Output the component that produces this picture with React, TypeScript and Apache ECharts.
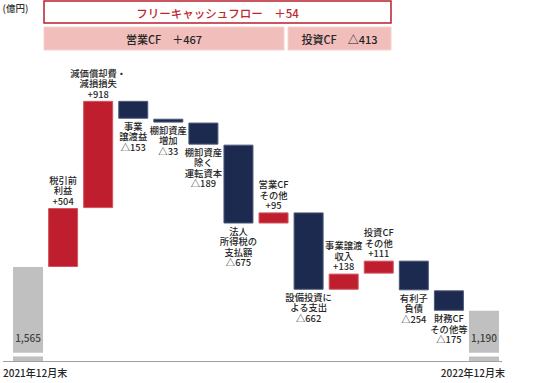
import React, { useEffect, useRef } from "react";
import * as echarts from "echarts";

const categories = [
  "2021年12月末", "税引前利益", "減価償却費・減損損失", "事業譲渡益", "棚卸資産増加",
  "棚卸資産除く運転資本", "法人所得税の支払額", "営業CFその他", "設備投資による支出",
  "事業譲渡収入", "投資CFその他", "有利子負債", "財務CFその他等", "2022年12月末",
];
const barLabels = [
  "", "税引前\n利益", "減価償却費・\n減損損失", "事業\n譲渡益", "棚卸資産\n増加",
  "棚卸資産\n除く\n運転資本", "法人\n所得税の\n支払額", "営業CF\nその他", "設備投資に\nよる支出",
  "事業譲渡\n収入", "投資CF\nその他", "有利子\n負債", "財務CF\nその他等", "",
];
const startValue = 1565;
const endValue = 1190;
const deltas = [504, 918, -153, -33, -189, -675, 95, -662, 138, 111, -254, -175];
const operatingIdx = [0, 1, 2, 3, 4, 5, 6];
const investingIdx = [7, 8, 9];
const axisMin = 760;
const axisMax = 3400;
const breakLow = 800;
const breakHigh = 830;

const FONT = "'Noto Sans CJK JP', 'Noto Sans', sans-serif";
const RED = "#BE1E2D";
const NAVY = "#1B2A4E";
const GRAY = "#C0C0C0";

const fmtDelta = (v: number) => (v >= 0 ? "+" + v : "△" + Math.abs(v));
const fmtHead = (v: number) => (v >= 0 ? "＋" + v : "△" + Math.abs(v));

export default function App() {
  const ref = useRef<HTMLDivElement>(null);
  useEffect(() => {
    document.body.style.margin = "0";
    if (!ref.current) return;
    const chart = echarts.init(ref.current, undefined, { renderer: "svg" });

    const n = categories.length;
    const base: any[] = [];
    const grayLow: any[] = [];
    const grayGap: any[] = [];
    const grayHigh: any[] = [];
    const up: any[] = [];
    const down: any[] = [];
    let running = startValue;
    for (let i = 0; i < n; i++) {
      if (i === 0 || i === n - 1) {
        const v = i === 0 ? startValue : endValue;
        base.push(axisMin);
        grayLow.push(breakLow - axisMin);
        grayGap.push(breakHigh - breakLow);
        grayHigh.push({ value: v - breakHigh, total: v });
        up.push("-");
        down.push("-");
      } else {
        const d = deltas[i - 1];
        const next = running + d;
        base.push(Math.min(running, next));
        grayLow.push("-");
        grayGap.push("-");
        grayHigh.push("-");
        if (d >= 0) {
          up.push({ value: d, delta: d });
          down.push("-");
        } else {
          up.push("-");
          down.push({ value: -d, delta: d });
        }
        running = next;
      }
    }

    const operating = operatingIdx.reduce((s, i) => s + deltas[i], 0);
    const investing = investingIdx.reduce((s, i) => s + deltas[i], 0);
    const fcf = operating + investing;

    const labelCommon = {
      show: true,
      fontFamily: FONT,
      fontSize: 9.3,
      fontWeight: 500,
      lineHeight: 10.5,
      color: "#262626",
      align: "center" as const,
    };

    const option: any = {
      animation: false,
      grid: { left: 10.5, right: 33.5, top: 52.6, bottom: 22, containLabel: false },
      xAxis: {
        type: "category",
        data: categories,
        axisLine: { show: false },
        axisTick: { show: false },
        axisLabel: { show: false },
      },
      yAxis: {
        type: "value",
        min: axisMin,
        max: axisMax,
        show: false,
        splitLine: { show: false },
      },
      series: [
        {
          type: "bar", stack: "wf", barWidth: 30, data: base,
          itemStyle: { color: "transparent" }, silent: true,
        },
        {
          type: "bar", stack: "wf", barWidth: 30, data: grayLow,
          itemStyle: { color: GRAY },
        },
        {
          type: "bar", stack: "wf", barWidth: 30, data: grayGap,
          itemStyle: { color: "#ffffff" },
        },
        {
          type: "bar", stack: "wf", barWidth: 30, data: grayHigh,
          itemStyle: { color: GRAY },
          label: {
            ...labelCommon,
            fontSize: 10,
            color: "#404040",
            position: "insideBottom",
            distance: 10,
            formatter: (p: any) => Number(p.data.total).toLocaleString("en-US"),
          },
        },
        {
          type: "bar", stack: "wf", barWidth: 30, data: up,
          itemStyle: { color: RED, borderColor: "#D3545E", borderWidth: 1 },
          label: {
            ...labelCommon,
            position: "top",
            distance: 2,
            formatter: (p: any) => barLabels[p.dataIndex] + "\n" + fmtDelta(p.data.delta),
          },
        },
        {
          type: "bar", stack: "wf", barWidth: 30, data: down,
          itemStyle: { color: NAVY, borderColor: "#4B5878", borderWidth: 1 },
          label: {
            ...labelCommon,
            position: "bottom",
            distance: 2,
            formatter: (p: any) => barLabels[p.dataIndex] + "\n" + fmtDelta(p.data.delta),
          },
        },
      ],
      graphic: [
        {
          type: "text", x: 2.5, y: 7.5,
          style: {
            text: "(億円)", font: `500 9.5px ${FONT}`, fill: "#333",
            align: "left", verticalAlign: "middle",
          },
        },
        {
          type: "rect", shape: { x: 44, y: 1, width: 347, height: 22 },
          style: { fill: "#fff", stroke: "#B8202C", lineWidth: 1.5 },
        },
        {
          type: "text", x: 217.5, y: 12.5,
          style: {
            text: "フリーキャッシュフロー　" + fmtHead(fcf),
            font: `500 11.5px ${FONT}`, fill: "#C0272D", align: "center", verticalAlign: "middle",
          },
        },
        {
          type: "rect", shape: { x: 44, y: 27, width: 240, height: 23 },
          style: { fill: "#F2BEBB", stroke: "#F6D2D0", lineWidth: 1 },
        },
        {
          type: "text", x: 164, y: 38.5,
          style: {
            text: "営業CF　" + fmtHead(operating),
            font: `500 11px ${FONT}`, fill: "#262626", align: "center", verticalAlign: "middle",
          },
        },
        {
          type: "rect", shape: { x: 288, y: 27, width: 103, height: 23 },
          style: { fill: "#F2BEBB", stroke: "#F6D2D0", lineWidth: 1 },
        },
        {
          type: "text", x: 339.5, y: 38.5,
          style: {
            text: "投資CF　" + fmtHead(investing),
            font: `500 11px ${FONT}`, fill: "#262626", align: "center", verticalAlign: "middle",
          },
        },
        {
          type: "line", shape: { x1: 3, y1: 361.5, x2: 502, y2: 361.5 },
          style: { stroke: "#A0A0A0", lineWidth: 1.2 },
        },
        {
          type: "text", x: 3, y: 372.5,
          style: {
            text: categories[0], font: `500 10px ${FONT}`, fill: "#262626",
            align: "left", verticalAlign: "middle",
          },
        },
        {
          type: "text", x: 505, y: 372.5,
          style: {
            text: categories[categories.length - 1], font: `500 10px ${FONT}`, fill: "#262626",
            align: "right", verticalAlign: "middle",
          },
        },
      ],
    };
    chart.setOption(option);
    return () => chart.dispose();
  }, []);
  return <div ref={ref} style={{ width: 535, height: 383 }} />;
}
